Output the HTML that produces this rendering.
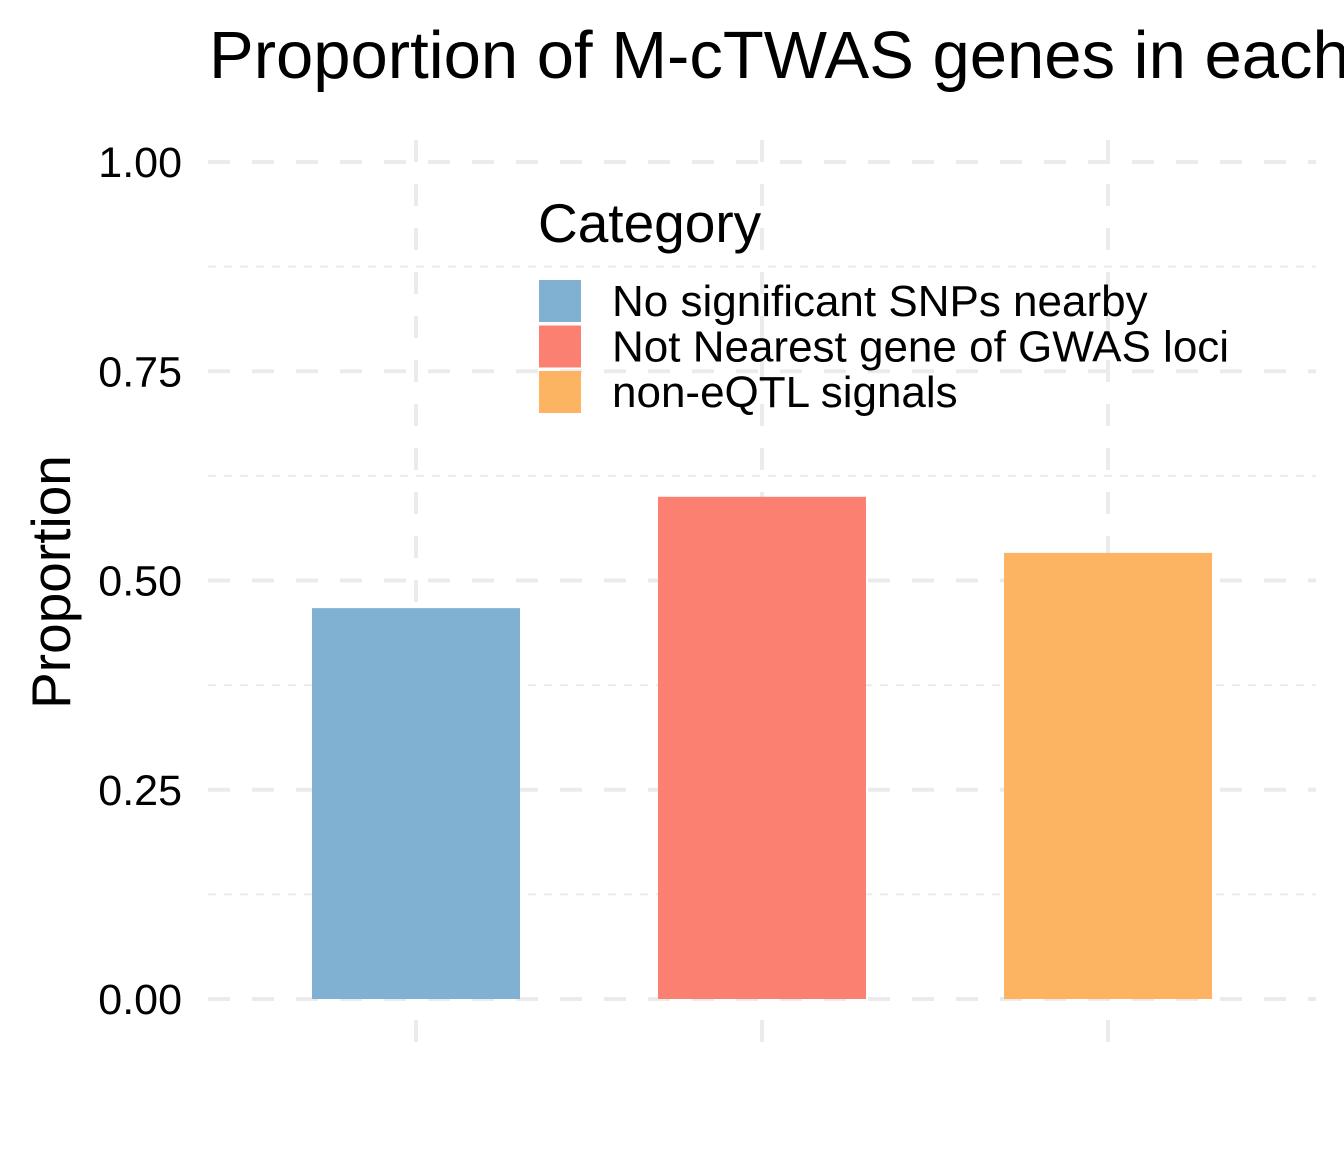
<!DOCTYPE html>
<html><head><meta charset="utf-8"><style>
html,body{margin:0;padding:0;background:#fff;}
svg{display:block;font-family:"Liberation Sans",Arial,sans-serif;}
</style></head><body>
<svg id="chart" width="1344" height="1152" xmlns="http://www.w3.org/2000/svg">
<rect width="1344" height="1152" fill="#fff"/>
<g id="grid"></g>
<g id="bars"></g>
<g id="yticks"></g>
<text x="209" y="78" font-size="67" fill="#000">Proportion of M-cTWAS genes in each</text>
<text transform="translate(70,582) rotate(-90)" text-anchor="middle" font-size="55" fill="#000">Proportion</text>
<g id="legend">
<text x="538" y="242" font-size="55" fill="#000">Category</text>
</g>
</svg>
<script>
const categories = ["No significant SNPs nearby", "Not Nearest gene of GWAS loci", "non-eQTL signals"];
const values = [0.467, 0.600, 0.533];
const colors = ["#80B1D3", "#FB8072", "#FDB462"];
const yTicks = [0, 0.25, 0.5, 0.75, 1];
const yTickLabels = ["0.00", "0.25", "0.50", "0.75", "1.00"];
const yMinor = [0.125, 0.375, 0.625, 0.875];

const NS = "http://www.w3.org/2000/svg";
const y = v => 999 - v * 837;
const x = i => 416 + i * 346;
const barW = 208;
function mk(tag, attrs, parent) {
  const e = document.createElementNS(NS, tag);
  for (const k in attrs) e.setAttribute(k, attrs[k]);
  parent.appendChild(e);
  return e;
}
const grid = document.getElementById('grid');
yMinor.forEach(v => {
  const l = mk('line', {x1: 208, x2: 1316, y1: y(v), y2: y(v), stroke: '#ebebeb', 'stroke-width': 2, 'stroke-dasharray': '8 8'}, grid);
  
  
});
yTicks.forEach(v => {
  const l = mk('line', {x1: 208, x2: 1316, y1: y(v), y2: y(v), stroke: '#ebebeb', 'stroke-width': 4, 'stroke-dasharray': '22 22'}, grid);
  
  
});
categories.forEach((c, i) => {
  const l = mk('line', {x1: x(i), x2: x(i), y1: 1042, y2: 121, stroke: '#ebebeb', 'stroke-width': 4, 'stroke-dasharray': '22 22'}, grid);
  
  
});
const bars = document.getElementById('bars');
values.forEach((v, i) => {
  const r = mk('rect', {x: x(i) - barW / 2, y: y(v), width: barW, height: y(0) - y(v), fill: colors[i]}, bars);
  
  
});
const yt = document.getElementById('yticks');
yTicks.forEach((v, i) => {
  const t = mk('text', {x: 182, y: y(v) + 15, 'text-anchor': 'end', 'font-size': 43, fill: '#000'}, yt);
  t.textContent = yTickLabels[i];
  
  
});
const lg = document.getElementById('legend');
categories.forEach((c, i) => {
  const top = 280 + i * 45.5;
  const r = mk('rect', {x: 539, y: top, width: 42, height: 42, fill: colors[i]}, lg);
  
  
  const t = mk('text', {x: 612, y: top + 36, 'font-size': 44, fill: '#000'}, lg);
  t.textContent = c;
  
  
});
</script>
</body></html>
